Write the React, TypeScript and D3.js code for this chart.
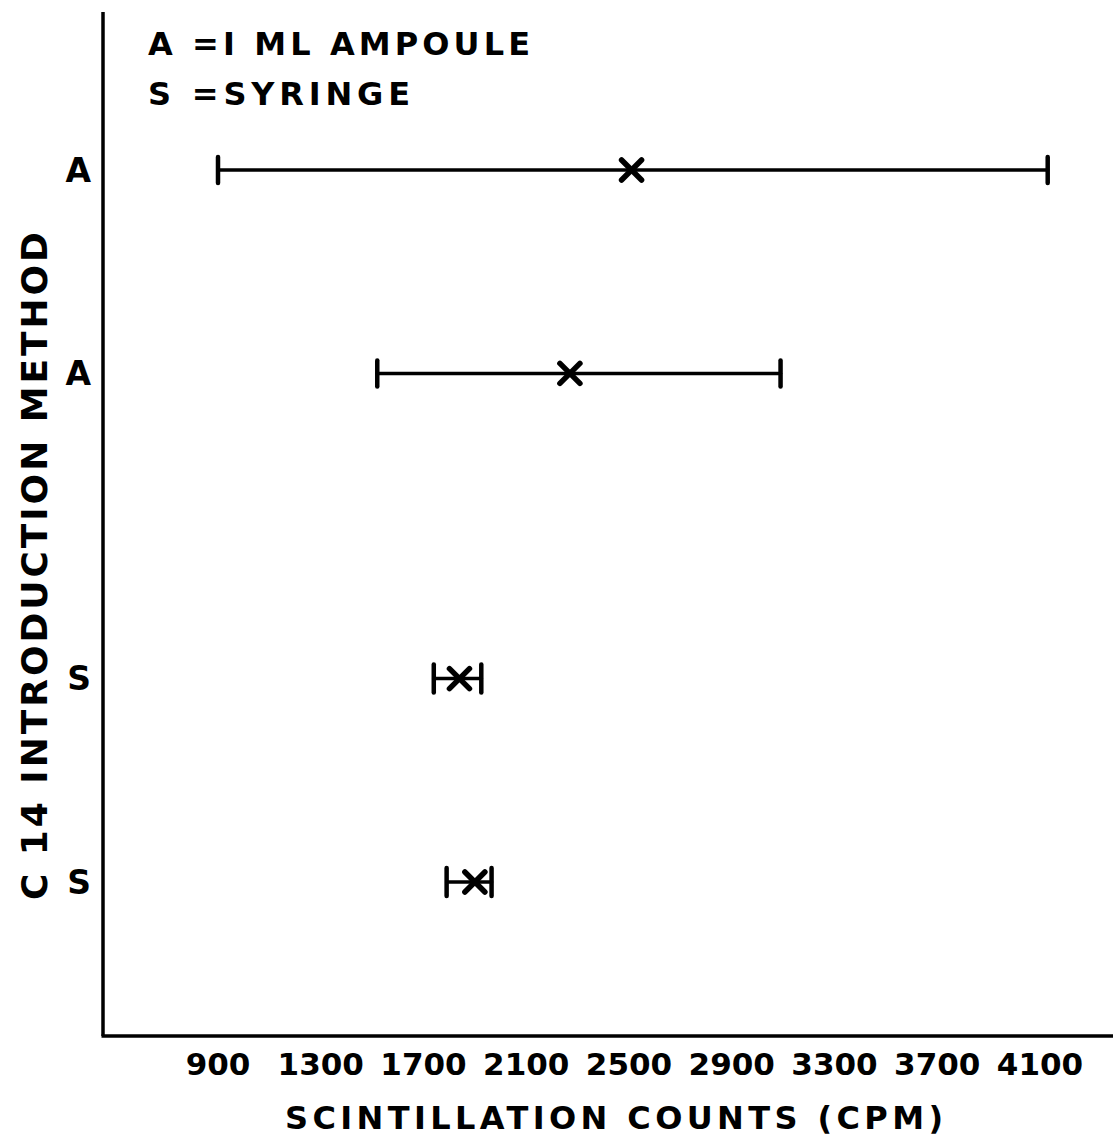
import React from "react";
import * as d3 from "d3";

// Introduction method for each trial (top to bottom)
const methods = ["A", "A", "S", "S"];
// Vertical slot of each trial on the method axis
const rowSlots = [1, 3, 6, 8];
// Scintillation counts (CPM): low end, mean, high end
const lowCounts = [900, 1520, 1740, 1790];
const meanCounts = [2510, 2270, 1840, 1900];
const highCounts = [4130, 3090, 1925, 1965];

const xTicks = [900, 1300, 1700, 2100, 2500, 2900, 3300, 3700, 4100];
const legendLines = ["A =I ML AMPOULE", "S =SYRINGE"];
const xTitle = "SCINTILLATION COUNTS (CPM)";
const yTitle = "C 14 INTRODUCTION METHOD";

const W = 1113;
const H = 1140;
const axisX = 103;
const axisTop = 12;
const axisBottom = 1036;
const font = "'DejaVu Sans', Verdana, sans-serif";

export default function App() {
  const x = d3.scaleLinear().domain([900, 4100]).range([218, 1040]);
  const y = d3.scaleLinear().domain([1, 8]).range([170, 882]);

  const capBig = 13;
  const capSmall = 14;
  const xSize = 10;

  return (
    <svg
      width={W}
      height={H}
      viewBox={`0 0 ${W} ${H}`}
      style={{ position: "absolute", left: 0, top: 0, background: "#fff" }}
    >
      <rect width={W} height={H} fill="#fff" />
      {/* axes */}
      <line x1={axisX} y1={axisTop} x2={axisX} y2={axisBottom} stroke="#000" strokeWidth={3.5} />
      <line x1={axisX - 1.5} y1={axisBottom} x2={W} y2={axisBottom} stroke="#000" strokeWidth={3.5} />

      {/* legend */}
      {legendLines.map((t, i) => (
        <text
          key={t}
          x={148}
          y={55 + i * 50}
          fontFamily={font}
          fontWeight="bold"
          fontSize={32}
          textLength={i === 0 ? 382 : 262}
          lengthAdjust="spacing"
        >
          {t}
        </text>
      ))}

      {/* x tick labels */}
      {xTicks.map((t) => (
        <text
          key={t}
          x={x(t)}
          y={1075}
          textAnchor="middle"
          fontFamily={font}
          fontWeight="bold"
          fontSize={31}
        >
          {t}
        </text>
      ))}
      <text
        x={614}
        y={1129}
        textAnchor="middle"
        fontFamily={font}
        fontWeight="bold"
        fontSize={32}
        textLength={658}
        lengthAdjust="spacing"
      >
        {xTitle}
      </text>

      {/* y title */}
      <text
        transform={`translate(47, 566) rotate(-90)`}
        textAnchor="middle"
        fontFamily={font}
        fontWeight="bold"
        fontSize={36}
        textLength={668}
        lengthAdjust="spacing"
      >
        {yTitle}
      </text>

      {/* method labels */}
      {methods.map((m, i) => (
        <text
          key={i}
          x={91}
          y={y(rowSlots[i])}
          dy="0.36em"
          textAnchor="end"
          fontFamily={font}
          fontWeight="bold"
          fontSize={33}
        >
          {m}
        </text>
      ))}

      {/* range bars with mean markers */}
      {methods.map((m, i) => {
        const cy = y(rowSlots[i]);
        const x0 = x(lowCounts[i]);
        const x1 = x(highCounts[i]);
        const xm = x(meanCounts[i]);
        const cap = m === "A" ? capBig : capSmall;
        return (
          <g key={i} stroke="#000" strokeLinecap="round">
            <line x1={x0} y1={cy} x2={x1} y2={cy} strokeWidth={3.5} />
            <line x1={x0} y1={cy - cap} x2={x0} y2={cy + cap} strokeWidth={4.5} />
            <line x1={x1} y1={cy - cap} x2={x1} y2={cy + cap} strokeWidth={4.5} />
            <line x1={xm - xSize} y1={cy - xSize} x2={xm + xSize} y2={cy + xSize} strokeWidth={5.5} />
            <line x1={xm - xSize} y1={cy + xSize} x2={xm + xSize} y2={cy - xSize} strokeWidth={5.5} />
          </g>
        );
      })}
    </svg>
  );
}
